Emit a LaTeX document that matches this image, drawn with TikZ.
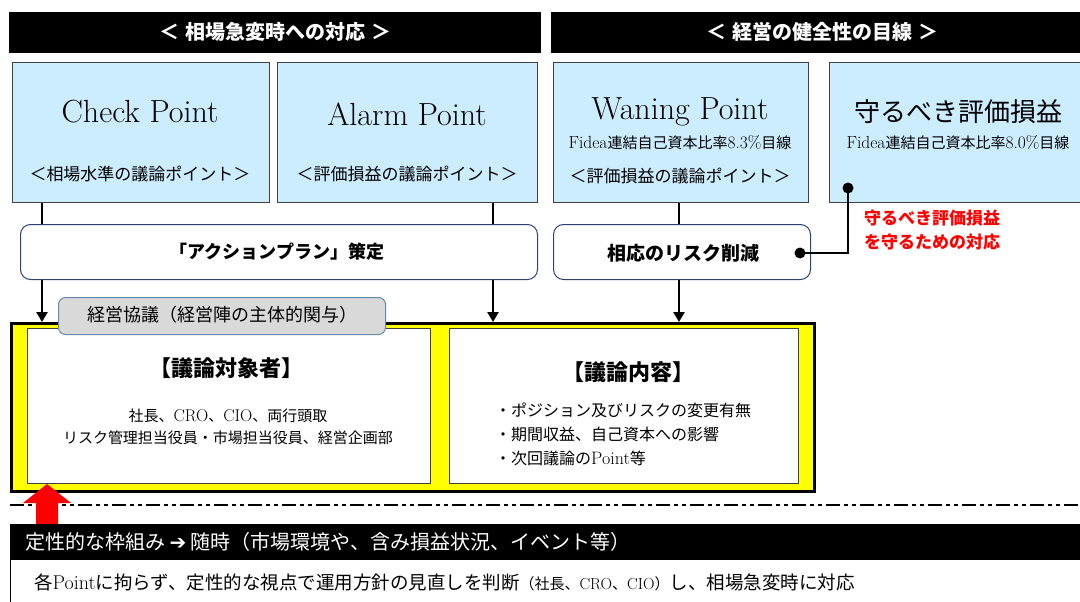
\documentclass[tikz,border=0pt]{standalone}
\usepackage{fontspec}
\newfontfamily\jpfont{Noto Sans CJK JP}
\newfontfamily\arrfont{DejaVu Sans}
\usetikzlibrary{arrows.meta}
\definecolor{lblue}{HTML}{CCECFF}
\definecolor{bdgray}{HTML}{404040}
\definecolor{navy}{HTML}{2F4170}
\definecolor{gbox}{HTML}{D9D9D9}
\definecolor{gboxb}{HTML}{6A86A8}
\definecolor{ylw}{HTML}{FFFF00}
\newcommand{\fsz}[2]{\fontsize{#1}{#2}\selectfont}
\newcommand{\jpt}[1]{{\jpfont #1}}
\tikzset{
  blackbar/.style={fill=black, draw=black, inner sep=0pt, anchor=north west},
  bluebox/.style={fill=lblue, draw=bdgray, line width=1pt, inner sep=0pt, anchor=north west},
  rbox/.style={fill=white, draw=navy, line width=1pt, rounded corners=10pt, inner sep=0pt, anchor=north west},
  wbox/.style={fill=white, draw=bdgray, line width=1pt, inner sep=0pt, anchor=north west},
  conn/.style={line width=2.8pt, draw=black},
  tip/.style={-{Triangle[width=11pt,length=10pt]}},
  txt/.style={inner sep=0pt, align=center}
}
\begin{document}
\begin{tikzpicture}[x=1pt,y=-1pt]
\useasboundingbox (0,0) rectangle (1080,602);
\clip (0,0) rectangle (1080,602);
\fill[white] (0,0) rectangle (1080,602);

% header bars
\node[blackbar, minimum width=531pt, minimum height=40pt] (h1) at (9,12) {};
\node[txt, text=white, font=\jpfont\bfseries\fsz{20}{24}] (h1t) at (275,32) {＜\hspace{0.3em}相場急変時への対応\hspace{0.3em}＞};
\node[blackbar, minimum width=540pt, minimum height=40pt] (h2) at (551,12) {};
\node[txt, text=white, font=\jpfont\bfseries\fsz{20}{24}] (h2t) at (822,32) {＜\hspace{0.3em}経営の健全性の目線\hspace{0.3em}＞};

% blue boxes
\node[bluebox, minimum width=257pt, minimum height=140pt] (cp) at (12,62) {};
\node[txt, font=\fsz{32}{36}] (cpt) at (140,112) {Check Point};
\node[txt, font=\jpfont\fsz{17}{20}] (cps) at (140,174) {＜相場水準の議論ポイント＞};

\node[bluebox, minimum width=260pt, minimum height=140pt] (ap) at (277,62) {};
\node[txt, font=\fsz{32}{36}] (apt) at (407,114) {Alarm Point};
\node[txt, font=\jpfont\fsz{17}{20}] (aps) at (407,174) {＜評価損益の議論ポイント＞};

\node[bluebox, minimum width=255pt, minimum height=140pt] (wp) at (553,62) {};
\node[txt, font=\fsz{32}{36}] (wpt) at (680,112) {Waning Point};
\node[txt, font=\fsz{17.5}{18}] (wpf) at (680,143) {Fidea{\jpfont\fsz{15}{18}連結自己資本比率}8.3\%{\jpfont\fsz{15}{18}目線}};
\node[txt, font=\jpfont\fsz{17}{20}] (wps) at (680,176) {＜評価損益の議論ポイント＞};

\node[bluebox, minimum width=270pt, minimum height=140pt] (mp) at (829,62) {};
\node[txt, font=\jpfont\fsz{26}{30}] (mpt) at (958,112) {守るべき評価損益};
\node[txt, font=\fsz{17.5}{18}] (mpf) at (958,143) {Fidea{\jpfont\fsz{15}{18}連結自己資本比率}8.0\%{\jpfont\fsz{15}{18}目線}};

% rounded boxes
\node[rbox, minimum width=517pt, minimum height=55pt] (act) at (20,224) {};
\node[txt, font=\jpfont\bfseries\fsz{18}{22}] (actt) at (277,252) {「アクションプラン」策定};
\node[rbox, minimum width=257pt, minimum height=55pt] (rsk) at (553,224) {};
\node[txt, font=\jpfont\bfseries\fsz{19}{22}] (rskt) at (683,253) {相応のリスク削減};

% red note
\node[txt, anchor=west, align=left, text=red, font=\jpfont\bfseries\fsz{17}{24}] (rnote) at (864,230) {守るべき評価損益\\を守るための対応};

% yellow area
\node[anchor=north west, fill=ylw, draw=black, line width=2.8pt, inner sep=0pt, minimum width=803pt, minimum height=168pt] (yb) at (10,322) {};
\node[wbox, minimum width=403pt, minimum height=155pt] (il) at (27,328) {};
\node[wbox, minimum width=349pt, minimum height=155pt] (ir) at (449,328) {};

% coordinates for connectors
\coordinate (l1) at (42,0);
\coordinate (l2) at (493,0);
\coordinate (l3) at (679,0);
\coordinate (d1) at (848,188);
\coordinate (d2) at (800,253);

\draw[conn] (cp.south -| l1) -- (act.north -| l1);
\draw[conn] (ap.south -| l2) -- (act.north -| l2);
\draw[conn] (wp.south -| l3) -- (rsk.north -| l3);
\draw[conn,tip] (act.south -| l1) -- (yb.north -| l1);
\draw[conn,tip] (act.south -| l2) -- (yb.north -| l2);
\draw[conn,tip] (rsk.south -| l3) -- (yb.north -| l3);
\draw[conn] (d1) |- (d2);
\fill (d1) circle (5.5);
\fill (d2) circle (5.5);

% gray box
\node[anchor=north west, fill=gbox, draw=gboxb, line width=1pt, rounded corners=7pt, inner sep=0pt, minimum width=327pt, minimum height=37pt] (gb) at (58,297) {};
\node[txt, font=\jpfont\fsz{18}{22}] (gbt) at (222,315) {経営協議（経営陣の主体的関与）};

% inner texts
\node[txt, font=\jpfont\bfseries\fsz{22}{26}] (ilh) at (226,368) {【議論対象者】};
\node[txt, font=\fsz{17}{22}] (ilb) at (228,427) {{\jpfont\fsz{15}{22}社長、}CRO{\jpfont\fsz{15}{22}、}CIO{\jpfont\fsz{15}{22}、両行頭取}\\{\jpfont\fsz{15}{22}リスク管理担当役員・市場担当役員、経営企画部}};
\node[txt, font=\jpfont\bfseries\fsz{22}{26}] (irh) at (628,372) {【議論内容】};
\node[txt, anchor=west, align=left, font=\fsz{18}{24}] (irb) at (495,434) {{\jpfont\fsz{16}{24}・ポジション及びリスクの変更有無}\\{\jpfont\fsz{16}{24}・期間収益、自己資本への影響}\\{\jpfont\fsz{16}{24}・次回議論の}Point{\jpfont\fsz{16}{24}等}};

% dash-dot line
\coordinate (dl) at (10,505);
\coordinate (dr) at (1080,505);
\draw[line width=2.4pt, dash pattern=on 14pt off 4pt on 4pt off 4pt on 4pt off 4pt] (dl) -- (dr);

% red up arrow
\fill[red] (47,484) -- (71,503) -- (58,503) -- (58,525) -- (36,525) -- (36,503) -- (23,503) -- cycle;

% bottom bar and box
\node[anchor=north west, fill=white, draw=black, line width=1.2pt, inner sep=0pt, minimum width=1090pt, minimum height=60pt] (bb) at (10,558) {};
\node[blackbar, minimum width=1080pt, minimum height=35pt] (bbar) at (10,524) {};
\node[txt, anchor=west, text=white, font=\jpfont\fsz{20}{24}] (bbt) at (25,542) {定性的な枠組み {\arrfont ➔} 随時（市場環境や、含み損益状況、イベント等）};
\node[txt, anchor=west, font=\fsz{20}{22}] (bbx) at (34,582) {{\jpfont\fsz{18.5}{22}各}Point{\jpfont\fsz{18.5}{22}に拘らず、定性的な視点で運用方針の見直しを判断}{\fsz{16}{18}\jpt{\fsz{15}{18}（社長、}CRO\jpt{\fsz{15}{18}、}CIO\jpt{\fsz{15}{18}）}}{\jpfont\fsz{18.5}{22}し、相場急変時に対応}};
\end{tikzpicture}
\end{document}
